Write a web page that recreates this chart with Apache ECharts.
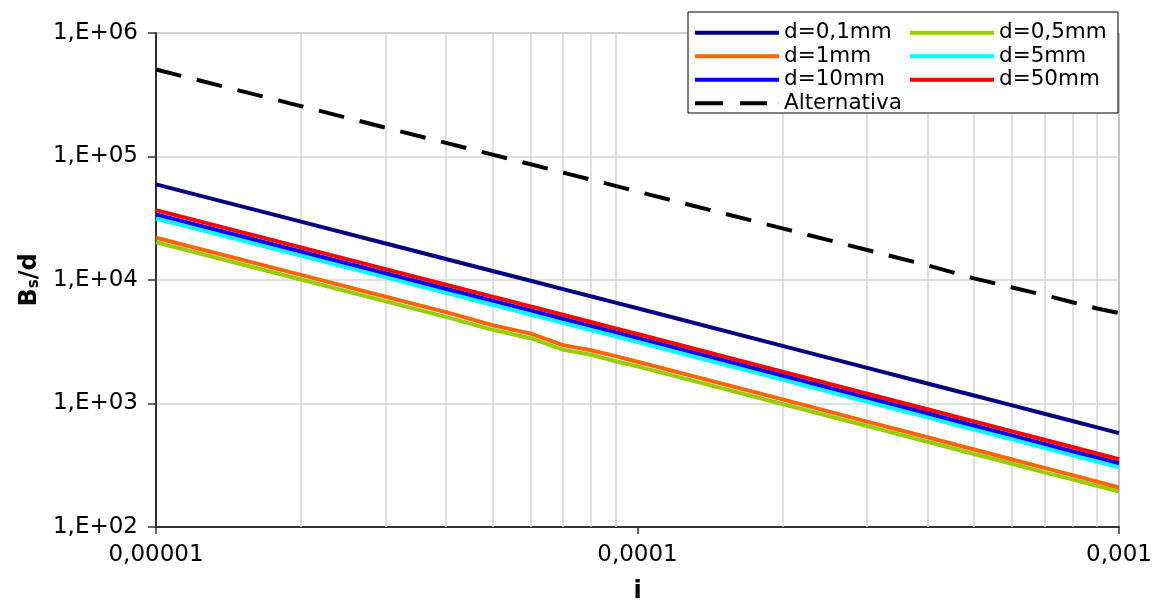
<!DOCTYPE html>
<html>
<head>
<meta charset="utf-8">
<script src="https://cdn.jsdelivr.net/npm/echarts@6/dist/echarts.min.js"></script>
<style>
html, body { margin: 0; padding: 0; background: #fff; }
#chart { width: 1154px; height: 605px; }
</style>
</head>
<body>
<div id="chart"></div>
<script>
// i values (hydraulic gradient)
const iValues = [0.00001, 0.00002, 0.00003, 0.00004, 0.00005, 0.00006, 0.00007, 0.00008, 0.00009,
	0.0001, 0.0002, 0.0003, 0.0004, 0.0005, 0.0006, 0.0007, 0.0008, 0.0009, 0.001]

// Bs/d per grain size
const d01 = [59500, 29700, 19770, 14800, 11840, 9850, 8440, 7380, 6560,
	5900, 2925, 1943, 1453, 1160, 965, 826, 721, 640, 575]
const d05 = [20200, 10100, 6720, 5030, 3950, 3380, 2730, 2480, 2200,
	2000, 990, 657, 490, 390, 325, 277, 243, 216, 194]
const d1 = [22000, 10990, 7320, 5490, 4300, 3680, 2970, 2700, 2420,
	2180, 1080, 713, 533, 424, 352, 301, 263, 233, 209]
const d5 = [31500, 15750, 10500, 7880, 6300, 5250, 4500, 3940, 3500,
	3150, 1560, 1033, 773, 616, 512, 437, 381, 339, 304]
const d10 = [34000, 17000, 11330, 8500, 6800, 5670, 4860, 4250, 3780,
	3400, 1685, 1117, 833, 664, 552, 471, 411, 366, 328]
const d50 = [36800, 18380, 12250, 9180, 7340, 6110, 5230, 4570, 4060,
	3650, 1810, 1200, 898, 716, 595, 509, 444, 394, 354]
const alternativa = [506000, 256000, 171000, 129000, 103500, 86500, 74200, 65000, 57800,
	52000, 26200, 17500, 13150, 10300, 8700, 7550, 6610, 5880, 5400]

// tick labels
const xTickLabels = { "-5": "0,00001", "-4": "0,0001", "-3": "0,001" }
const yTickLabels = { 2: "1,E+02", 3: "1,E+03", 4: "1,E+04", 5: "1,E+05", 6: "1,E+06" }
// minor vertical grid lines
const xMinorGrid = [0.00002, 0.00003, 0.00004, 0.00005, 0.00006, 0.00007, 0.00008, 0.00009,
	0.0002, 0.0003, 0.0004, 0.0005, 0.0006, 0.0007, 0.0008, 0.0009]

const FONT = "DejaVu Sans"
const gridColor = "#d4d4d4"
const solidIcon = "path://M0,0H84V4H0Z"
const dashIcon = "path://M0,0H28V4H0Z M45,0H72V4H45Z M83.9,0H84V4H83.9Z"

const toPairs = arr => iValues.map((x, k) => [x, arr[k]])

const makeSeries = (name, arr, color, extra) => Object.assign({
	name,
	type: "line",
	data: toPairs(arr),
	symbol: "none",
	silent: true,
	lineStyle: { color, width: 4 },
	itemStyle: { color },
}, extra || {})

const legendBase = {
	z: 20,
	orient: "vertical",
	top: 16,
	itemWidth: 84,
	itemHeight: 4,
	itemGap: 0,
	selectedMode: false,
	textStyle: { fontFamily: FONT, fontSize: 21.5, color: "#000", lineHeight: 23.5 },
}

const chart = echarts.init(document.getElementById("chart"))

chart.setOption({
	animation: false,
	textStyle: { fontFamily: FONT },
	grid: {
		left: 156,
		right: 35,
		top: 33,
		bottom: 78,
		containLabel: false,
		outerBoundsMode: "none",
		show: true,
		borderColor: "#8a8a8a",
		borderWidth: 1,
	},
	graphic: [{
		type: "rect",
		z: 10,
		shape: { x: 688, y: 12, width: 430, height: 101 },
		style: { fill: "#fff", stroke: "#000", lineWidth: 1 },
	}],
	legend: [
		Object.assign({}, legendBase, {
			left: 690,
			data: [
				{ name: "d=0,1mm", icon: solidIcon },
				{ name: "d=1mm", icon: solidIcon },
				{ name: "d=10mm", icon: solidIcon },
				{ name: "Alternativa", icon: dashIcon },
			],
		}),
		Object.assign({}, legendBase, {
			left: 905,
			data: [
				{ name: "d=0,5mm", icon: solidIcon },
				{ name: "d=5mm", icon: solidIcon },
				{ name: "d=50mm", icon: solidIcon },
			],
		}),
	],
	xAxis: {
		type: "log",
		logBase: 10,
		min: 0.00001,
		max: 0.001,
		interval: 1,
		name: "i",
		nameLocation: "middle",
		nameGap: 53,
		nameTextStyle: { fontFamily: FONT, fontSize: 24, fontWeight: "bold", color: "#000" },
		axisLine: { lineStyle: { color: "#333", width: 2 } },
		axisTick: { show: true, length: 7, lineStyle: { color: "#333", width: 1.5 } },
		axisLabel: {
			margin: 17,
			fontFamily: FONT,
			fontSize: 23,
			color: "#000",
			formatter: v => xTickLabels[Math.round(Math.log10(v))] || "",
		},
		splitLine: { show: false },
	},
	yAxis: {
		type: "log",
		logBase: 10,
		min: 100,
		max: 1000000,
		interval: 1,
		name: "{b|B}{s|s}{b|/d}",
		nameLocation: "middle",
		nameGap: 112,
		nameRotate: 90,
		nameTextStyle: {
			rich: {
				b: { fontFamily: FONT, fontSize: 24, fontWeight: "bold", color: "#000" },
				s: { fontFamily: FONT, fontSize: 15, fontWeight: "bold", color: "#000", verticalAlign: "bottom", padding: [8, 0, 0, 0] },
			},
		},
		axisLine: { show: true, lineStyle: { color: "#333", width: 2 } },
		axisTick: { show: true, length: 8, lineStyle: { color: "#333", width: 1.5 } },
		axisLabel: {
			margin: 18,
			fontFamily: FONT,
			fontSize: 23,
			color: "#000",
			formatter: v => yTickLabels[Math.round(Math.log10(v))] || "",
		},
		splitLine: { show: true, lineStyle: { color: gridColor, width: 1.5 } },
	},
	series: [
		makeSeries("d=0,1mm", d01, "#000080", {
			markLine: {
				silent: true,
				z: 1,
				precision: 10,
				symbol: "none",
				label: { show: false },
				lineStyle: { color: gridColor, width: 1.5, type: "solid" },
				data: xMinorGrid.map(v => ({ xAxis: v })),
			},
		}),
		makeSeries("d=0,5mm", d05, "#99CC00"),
		makeSeries("d=1mm", d1, "#FF6600"),
		makeSeries("d=5mm", d5, "#00FFFF"),
		makeSeries("d=10mm", d10, "#0000FF"),
		makeSeries("d=50mm", d50, "#FF0000"),
		makeSeries("Alternativa", alternativa, "#000", {
			lineStyle: { color: "#000", width: 4, type: [26, 16] },
		}),
	],
})
</script>
</body>
</html>
